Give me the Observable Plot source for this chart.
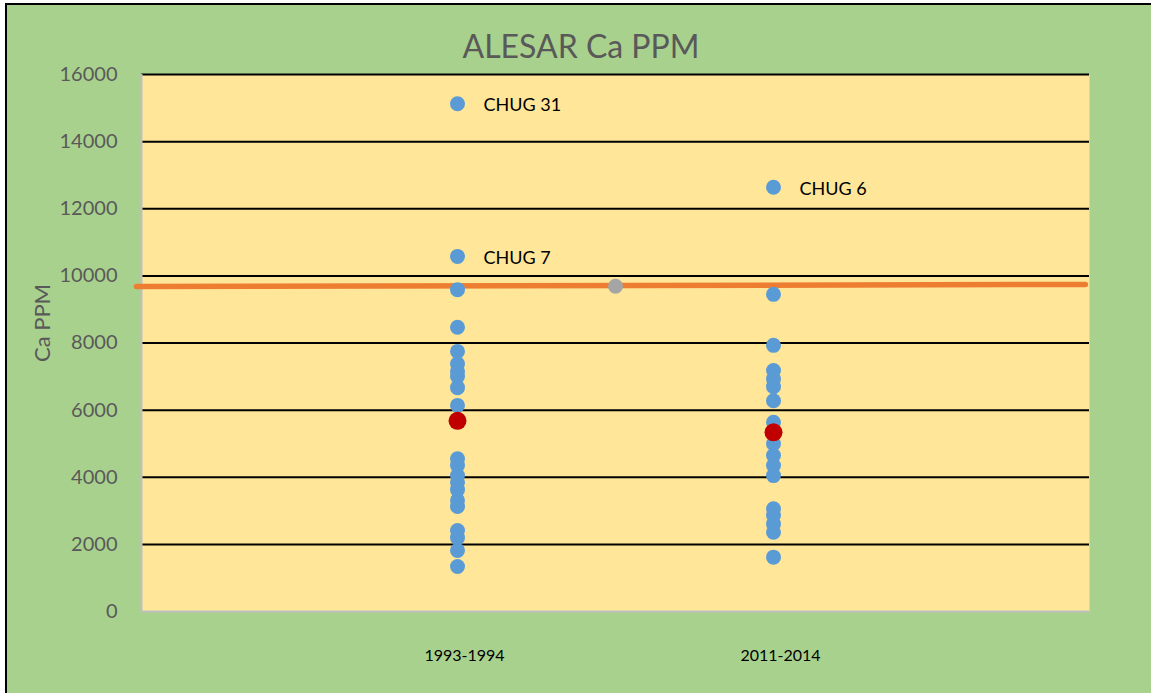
<!DOCTYPE html>
<html><head><meta charset="utf-8">
<script src="https://cdn.jsdelivr.net/npm/d3@7"></script>
<script src="https://cdn.jsdelivr.net/npm/@observablehq/plot@0.6"></script>
<style>
html,body{margin:0;padding:0;background:#fff;}
#wrap{position:relative;width:1151px;height:693px;overflow:hidden;background:#fff;font-family:Lato,sans-serif;}
#border{position:absolute;left:5px;top:3px;width:1170px;height:720px;border:2px solid #000;box-sizing:border-box;background:#A9D18E;}
#chart{position:absolute;left:0;top:0;}
#title{position:absolute;top:30px;left:0;width:1162px;text-align:center;font-size:32px;color:#595959;line-height:1;}
</style></head><body>
<div id="wrap"><div id="border"></div><div id="chart"></div><div id="title">ALESAR Ca PPM</div></div>
<script>
const categories = ["1993-1994", "2011-2014"];
const period1 = [15130, 10580, 9590, 8470, 7750, 7380, 7160, 7000, 6670, 6140, 4550, 4350, 4050, 3850, 3630, 3310, 3130, 2410, 2200, 1820, 1340];
const period2 = [12640, 9450, 7930, 7180, 6930, 6700, 6280, 5640, 5000, 4650, 4350, 4050, 3060, 2860, 2610, 2360, 1620];
const means = [5680, 5340];
const midPoint = {x: 1.5, y: 9690};
const refLine = [{x: -0.016, y: 9680}, {x: 2.987, y: 9745}];
const labels = [{x: 1, y: 15130, t: "CHUG 31"}, {x: 1, y: 10580, t: "CHUG 7"}, {x: 2, y: 12640, t: "CHUG 6"}];
const yTicks = [0, 2000, 4000, 6000, 8000, 10000, 12000, 14000, 16000];

const pts = [...period1.map(v => ({x: 1, y: v})), ...period2.map(v => ({x: 2, y: v}))];
const meanPts = means.map((v, i) => ({x: i + 1, y: v}));

const chart = Plot.plot({
  width: 1151, height: 693,
  marginLeft: 141, marginRight: 62, marginTop: 74, marginBottom: 82,
  x: {domain: [0, 3]},
  y: {domain: [0, 16000]},
  style: {background: "transparent", fontFamily: "Lato, sans-serif"},
  marks: [
    Plot.frame({fill: "#FFE699", stroke: null}),
    Plot.ruleY(yTicks.filter(d => d > 0), {stroke: "#000", strokeWidth: 2}),
    Plot.ruleY([0], {stroke: "#BFBFBF", strokeWidth: 2}),
    Plot.ruleX([0], {stroke: "#BFBFBF", strokeWidth: 2}),
    Plot.axisY({ticks: yTicks, tickFormat: d => String(d), tickSize: 0, tickPadding: 24, fontSize: 20, color: "#595959", label: null}),
    Plot.axisX({ticks: [1, 2], tickFormat: d => categories[d - 1], tickSize: 0, tickPadding: 38, dx: 7, fontSize: 16, color: "#000", label: null}),
    Plot.line(refLine, {x: "x", y: "y", stroke: "#ED7D31", strokeWidth: 5.5, clip: false}),
    Plot.dot(pts, {x: "x", y: "y", r: 7.5, fill: "#5B9BD5"}),
    Plot.dot([midPoint], {x: "x", y: "y", r: 7.5, fill: "#A5A5A5"}),
    Plot.dot(meanPts, {x: "x", y: "y", r: 9, fill: "#C00000"}),
    Plot.text(labels, {x: "x", y: "y", text: "t", dx: 26, dy: 2, textAnchor: "start", fontSize: 18, fill: "#000"}),
    Plot.text(["Ca PPM"], {frameAnchor: "left", textAnchor: "middle", rotate: -90, dx: -99, dy: -20, fontSize: 22, fill: "#595959"})
  ]
});
document.getElementById("chart").appendChild(chart);
</script>
</body></html>
